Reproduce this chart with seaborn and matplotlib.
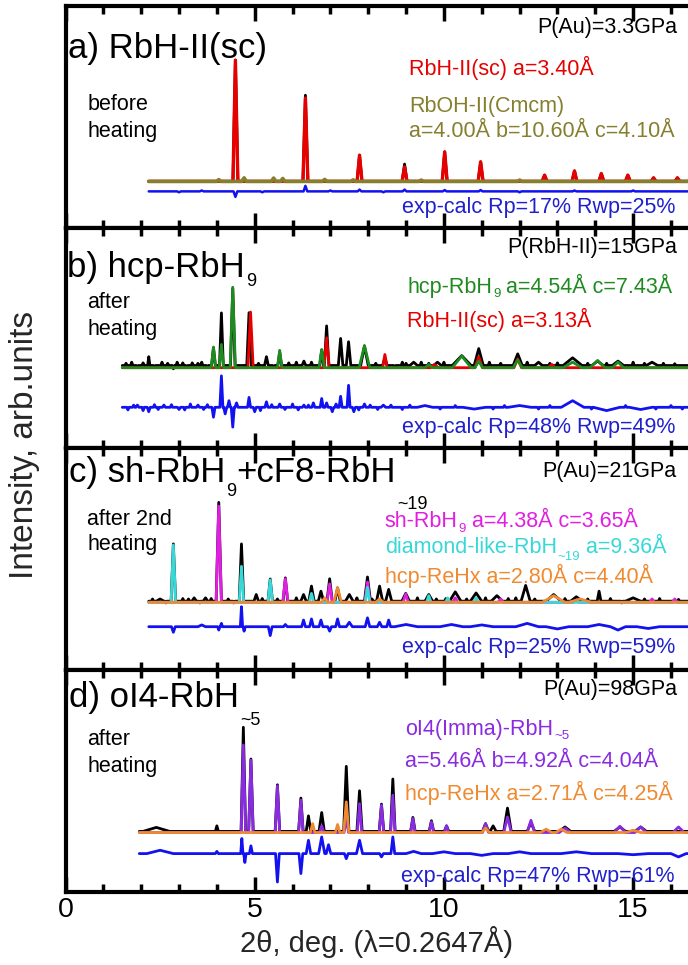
import numpy as np
import matplotlib.pyplot as plt
from matplotlib.ticker import MultipleLocator
import seaborn as sns

sns.set_style('ticks')
plt.rcParams['font.family'] = ['Liberation Sans', 'DejaVu Sans']

# ---------------- data (2theta in deg, intensity in arb. units above baseline) ----------------
# a) RbH-II(sc), before heating
a_span = (2.2, 16.5)
a_rbh_pos = [4.49, 6.34, 7.77, 8.96, 10.02, 10.97, 12.66, 13.45, 14.16, 14.86, 15.54, 16.17]
a_rbh_hgt = [54.6, 37.5, 11.8, 6.5, 13.3, 8.8, 2.8, 4.7, 3.5, 2.8, 1.6, 1.6]
a_obs_hgt = [54.6, 38.8, 11.8, 7.8, 13.3, 8.8, 2.8, 4.7, 3.5, 2.8, 1.6, 1.6]
a_rboh_pos = [4.05, 4.72, 5.50, 5.74, 6.85, 7.60, 9.40, 12.00]
a_rboh_hgt = [0.8, 1.6, 1.5, 1.3, 0.9, 0.7, 0.6, 0.6]
a_res_pos = [3.0, 3.6, 4.49, 5.2, 6.34, 7.0, 7.77, 8.4, 8.96, 10.02, 10.97, 12.0, 13.45, 15.0]
a_res_hgt = [-0.4, 0.4, -2.5, -0.4, 2.5, 0.4, 0.8, -0.4, 0.8, 0.6, 0.6, -0.4, 0.4, 0.4]

# b) hcp-RbH9, after heating
b_span = (1.5, 16.5)
b_hcp_pos = [3.91, 4.12, 4.42, 5.66, 6.77, 7.90, 9.60, 10.47, 10.92, 11.95, 13.40, 14.06, 14.60]
b_hcp_hgt = [9.4, 10.6, 36.6, 7.9, 8.3, 10.1, 1.5, 5.3, 3.0, 3.5, 2.5, 3.3, 2.6]
b_hcp_wid = [0.06, 0.06, 0.07, 0.06, 0.07, 0.14, 0.1, 0.25, 0.1, 0.12, 0.25, 0.2, 0.15]
b_rbh_pos = [4.89, 6.90, 8.44, 9.75, 10.92, 11.95, 12.85]
b_rbh_hgt = [25.3, 13.6, 6.0, 1.5, 5.0, 4.0, 1.5]
b_rbh_wid = [0.07, 0.07, 0.06, 0.1, 0.1, 0.1, 0.1]
b_obs_pos = [2.20, 3.91, 4.12, 4.42, 4.85, 5.31, 5.66, 6.30,
             6.77, 6.90, 7.27, 7.48, 7.90, 8.44, 9.20, 9.83, 10.47, 10.92, 11.95, 12.50,
             13.40, 14.06, 14.60, 15.50]
b_obs_hgt = [4.0, 8.0, 23.9, 35.0, 24.0, 4.0, 6.0, 2.0,
             7.0, 18.0, 12.3, 10.8, 8.8, 3.5, 1.5, 1.5, 4.5, 7.7, 5.3, 1.5,
             3.5, 2.0, 2.0, 1.5]
b_obs_wid = [0.03, 0.05, 0.05, 0.06, 0.06, 0.05, 0.05, 0.05,
             0.05, 0.06, 0.06, 0.06, 0.1, 0.06, 0.1, 0.1, 0.25, 0.12, 0.12, 0.1,
             0.25, 0.15, 0.15, 0.15]
b_obs_fine_pos = [1.6, 1.75, 1.9, 2.05, 2.35, 2.55, 2.7, 2.85, 2.95, 3.1, 3.2, 3.35, 3.5,
                  3.6, 3.75, 5.1, 5.5, 5.9, 6.1, 6.5, 8.2, 8.7, 8.9, 9.0, 9.4, 9.6, 10.0,
                  11.2, 11.5, 12.2, 12.8, 13.0, 13.8, 14.3, 15.0, 15.3, 15.8, 16.1]
b_obs_fine_hgt = [1.0, 1.5, -0.8, 1.2, -1.0, 1.5, 1.0, -1.5, 1.5, 1.2, -0.8, 1.2, 1.0,
                  1.5, -0.8, 1.0, -1.0, 1.2, 1.5, 1.5, 1.0, -1.0, 1.5, 1.0, 1.5, 1.0, 1.5,
                  1.5, 1.0, 1.5, 1.0, 1.2, 1.0, 1.0, 1.5, 1.0, 1.0, 0.8]
b_res_pos = [1.9, 2.2, 2.6, 3.0, 3.5, 3.91, 4.12, 4.22, 4.32, 4.42, 4.52, 4.85, 5.0, 5.31,
             5.66, 6.30, 6.55, 6.77, 6.90, 7.05, 7.27, 7.48, 7.62, 7.90, 8.4, 9.5, 10.8,
             12.0, 13.4, 14.3, 15.2]
b_res_hgt = [1, -2, 1, -1, 1, -4.5, 14.3, -3, 3, -9, 2, 4.5, -2, 2.5,
             1.5, 1, 2, 4, 2, -2, 5, 10, -2, 1.5, 1, 0.8, -0.8,
             0.8, 3, -1.5, -1]
b_res_wid = [0.04] * 24 + [0.06, 0.2, 0.3, 0.3, 0.3, 0.35, 0.3]
b_res_fine_pos = [1.65, 1.8, 2.05, 2.35, 2.45, 2.8, 3.15, 3.3, 3.65, 3.75, 5.15, 5.45,
                  5.8, 6.0, 6.15, 6.42, 7.15, 7.75, 8.05, 8.25, 8.6, 8.9, 9.1, 9.9,
                  10.3, 11.3, 11.6, 12.5, 12.8, 13.9, 14.8, 15.6, 16.0, 16.3]
b_res_fine_hgt = [-1.2, 1.0, -1.5, 1.2, -1.0, 1.2, -1.2, 1.5, -1.0, 1.2, -1.5, 1.2,
                  -1.0, 1.5, -1.2, 1.0, 1.5, -1.2, 1.0, -1.0, 1.0, -1.0, 1.0, -0.8,
                  0.8, -0.8, 0.8, -0.8, 0.8, -0.8, 0.8, -0.8, 0.8, -0.8]

# c) sh-RbH9 + cF8-RbH~19, after 2nd heating
c_span = (2.2, 16.5)
c_sh_pos = [4.05, 5.81, 6.98, 7.98, 8.99, 10.30, 11.50, 13.50, 15.50, 16.10]
c_sh_hgt = [43.3, 10.6, 8.3, 9.1, 3.7, 2.0, 1.5, 1.0, 1.5, 1.5]
c_dia_pos = [2.85, 4.65, 5.41, 6.50, 7.98, 9.60, 10.10, 10.85]
c_dia_hgt = [25.8, 16.2, 10.1, 4.0, 6.8, 3.0, 2.0, 2.0]
c_re_pos = [6.85, 7.19, 8.30, 12.90, 13.60]
c_re_hgt = [2.0, 6.5, 1.5, 3.0, 1.5]
c_re_wid = [0.08, 0.1, 0.1, 0.3, 0.3]
c_obs_pos = [2.50, 2.85, 3.40, 3.70, 4.05, 4.65, 5.04, 5.41, 5.81, 6.29, 6.50, 6.75, 6.98,
             7.19, 7.50, 7.98, 8.30, 8.54, 8.99, 9.60, 10.30, 10.85, 11.40, 12.16, 12.90,
             13.50, 14.10, 15.00]
c_obs_hgt = [1.0, 25.8, 1.5, 1.5, 44.5, 25.8, 3.0, 10.0, 10.5, 3.0, 6.8, 4.5, 10.1,
             6.0, 3.0, 10.9, 6.8, 5.3, 3.5, 3.0, 4.2, 3.7, 2.5, 7.1, 3.0,
             2.0, 4.5, 1.5]
c_obs_wid = [0.1, 0.06, 0.06, 0.06, 0.07, 0.06, 0.06, 0.06, 0.06, 0.07, 0.07, 0.07, 0.07,
             0.07, 0.1, 0.08, 0.08, 0.08, 0.1, 0.1, 0.15, 0.15, 0.15, 0.12, 0.2,
             0.15, 0.05, 0.2]
c_obs_fine_pos = [2.3, 2.65, 3.1, 3.25, 3.55, 3.85, 4.3, 4.45, 5.2, 5.6, 6.1, 7.7, 8.1,
                  9.3, 9.8, 10.05, 10.6, 11.1, 11.7, 11.9, 12.4, 13.2, 13.8, 14.4, 14.7,
                  15.3, 15.7, 16.2]
c_obs_fine_hgt = [1.0, -0.8, 1.2, 1.0, -0.8, 1.2, 1.0, -0.8, 1.2, 1.0, 1.5, 1.5, 1.0,
                  1.5, 1.0, 1.2, 1.0, 1.5, 1.2, 1.5, 1.0, 1.2, 1.0, 1.2, -0.8,
                  1.0, 1.2, 0.8]
c_res_pos = [2.85, 3.6, 4.05, 4.12, 4.65, 4.72, 5.41, 5.81, 6.29, 6.50, 6.75, 6.98, 7.19,
             7.5, 7.98, 8.3, 8.54, 9.0, 10.2, 11.0, 12.2, 13.0, 14.1, 14.6, 15.4]
c_res_hgt = [-2.5, 0.8, -1.5, 1.5, 9, -2, -4, 1, 3, 3.5, 3, -2, 3.5,
             2, 4, 2, 3, 1, 1, 0.8, 1.5, -1, 1, -1.5, -0.8]
c_res_wid = [0.05, 0.1, 0.03, 0.03, 0.03, 0.03, 0.05, 0.05, 0.05, 0.05, 0.05, 0.05, 0.05,
             0.08, 0.06, 0.06, 0.05, 0.3, 0.3, 0.3, 0.3, 0.3, 0.3, 0.2, 0.3]

# d) oI4-RbH~5, after heating
d_span = (1.95, 16.5)
d_oi4_pos = [4.70, 4.90, 5.60, 6.22, 6.77, 7.42, 7.77, 8.35, 8.65, 9.18, 9.67, 10.07,
             11.10, 11.68, 12.30, 13.20, 14.65, 15.20, 16.20]
d_oi4_hgt = [39.4, 32.6, 21.0, 14.6, 3.0, 6.0, 13.0, 12.3, 16.8, 6.3, 4.8, 3.0,
             4.0, 7.0, 5.5, 2.0, 2.8, 2.5, 2.5]
d_oi4_wid = [0.06] * 12 + [0.08, 0.1, 0.1, 0.15, 0.15, 0.15, 0.15]
d_re_pos = [6.53, 7.19, 7.42, 11.10, 12.70, 13.10, 15.00]
d_re_hgt = [4.0, 3.6, 13.8, 2.0, 1.5, 1.5, 1.0]
d_re_wid = [0.06, 0.06, 0.07, 0.1, 0.15, 0.15, 0.2]
d_obs_pos = [2.40, 4.00, 4.70, 4.90, 5.60, 6.22, 6.42, 6.77, 7.42, 7.77, 8.35, 8.65, 9.18,
             9.67, 10.07, 11.10, 11.30, 11.68, 12.30, 13.20, 14.65, 15.20]
d_obs_hgt = [1.8, 2.5, 46.9, 32.6, 21.0, 15.0, 7.0, 8.5, 29.3, 18.3, 12.3, 23.6, 6.3,
             4.8, 2.5, 3.5, 2.5, 10.5, 4.0, 2.0, 2.0, 2.0]
d_obs_wid = [0.35, 0.04, 0.06, 0.06, 0.06, 0.06, 0.06, 0.07, 0.07, 0.07, 0.06, 0.06, 0.06,
             0.06, 0.06, 0.08, 0.08, 0.1, 0.1, 0.15, 0.15, 0.15]
d_res_pos = [2.5, 4.0, 4.66, 4.74, 4.90, 5.60, 6.22, 6.42, 6.77, 6.95, 7.42, 7.77, 8.35,
             8.65, 9.2, 10.0, 11.0, 12.0, 13.5, 15.0, 16.2]
d_res_hgt = [1.5, 1, 6.8, -4, 3.5, -12.8, -9, 6, 7.5, 4, -2.3, 6, -1.5,
             7.5, 1, 0.8, -0.8, 0.8, 0.8, -0.5, -1.5]
d_res_wid = [0.35, 0.04, 0.03, 0.03, 0.04, 0.05, 0.05, 0.06, 0.08, 0.06, 0.05, 0.08, 0.05,
             0.05, 0.2, 0.3, 0.3, 0.3, 0.4, 0.4, 0.2]

# colours
RED, OLIVE, GREEN = '#e60000', '#857f2e', '#1f8a1f'
MAG, CYAN, ORANGE, PURPLE = '#e01fe0', '#38d8d8', '#f08a30', '#8a2be2'
BLUE, TBLUE = '#1212f0', '#2020cc'


def peak_line(span, pos, hgt, wid, shift=0.0):
    # baseline -> peak -> baseline for every reflection
    if np.isscalar(wid):
        wid = [wid] * len(pos)
    xs, ys = [span[0]], [shift]
    for p, h, w in sorted(zip(pos, hgt, wid)):
        start = max(p - w, xs[-1])
        if start < p:
            xs.append(start)
            ys.append(shift)
        xs += [p, p + w]
        ys += [shift + h, shift]
    xs.append(span[1])
    ys.append(shift)
    return xs, ys


def draw(ax, span, pos, hgt, wid, color, lw=2.2, shift=0.0):
    xs, ys = peak_line(span, pos, hgt, wid, shift)
    sns.lineplot(x=xs, y=ys, ax=ax, color=color, lw=lw, sort=False,
                 estimator=None, solid_joinstyle='round')


fig = plt.figure(figsize=(6.88, 9.65), dpi=100)
edges = [6, 228, 448, 670, 892]
bases = [21, 36.5, 30.5, 26.8]
axes = []
for i in range(4):
    top, bot = edges[i], edges[i + 1]
    ax = fig.add_axes([65.5 / 688, 1 - bot / 965, 1 - 65.5 / 688, (bot - top) / 965])
    ax.set_xlim(0, 16.45)
    ax.set_ylim(-bases[i], 100 - bases[i])
    ax.set_yticks([])
    ax.set_xticks([0, 5, 10, 15])
    ax.xaxis.set_minor_locator(MultipleLocator(1))
    ax.tick_params(axis='x', which='both', direction='in', top=True, bottom=True,
                   width=2.5, colors='black', labelsize=20.5, labelbottom=(i == 3))
    ax.tick_params(axis='x', which='major', length=11)
    ax.tick_params(axis='x', which='minor', length=6)
    for s in ['left', 'top', 'bottom']:
        ax.spines[s].set_linewidth(3)
        ax.spines[s].set_color('black')
    ax.spines['right'].set_visible(False)
    ax.set_facecolor('white')
    axes.append(ax)


def label(ax, x, y, parts, color='black', size=15.5, sub=9.5, ha='left'):
    # parts: plain string, or list of (text, subscript offset in pt or None)
    if isinstance(parts, str):
        parts = [(parts, None)]
    first = ax.text(x, y, parts[0][0], color=color, fontsize=size, ha=ha,
                    va='baseline', transform=ax.transAxes)
    prev = first
    for txt, dy in parts[1:]:
        if dy is not None:
            prev = ax.annotate(txt, xy=(1, 0), xycoords=prev, xytext=(0.6, dy),
                               textcoords='offset points', color=color, fontsize=sub,
                               va='center', ha='left')
        else:
            prev = ax.annotate(txt, xy=(1, 0), xycoords=(prev, first), color=color,
                               fontsize=size, va='bottom', ha='left')


# ---- panel a ----
ax = axes[0]
draw(ax, a_span, a_rbh_pos, a_obs_hgt, 0.065, 'black', lw=2.0)
draw(ax, a_span, a_rbh_pos, a_rbh_hgt, 0.065, RED, lw=2.4)
draw(ax, a_span, a_rboh_pos, a_rboh_hgt, 0.06, OLIVE, lw=2.6)
draw(ax, a_span, a_res_pos, a_res_hgt, 0.05, BLUE, lw=1.8, shift=-4.5)
label(ax, 0.004, 0.766, 'a) RbH-II(sc)', size=25)
label(ax, 0.982, 0.878, 'P(Au)=3.3GPa', ha='right')
label(ax, 0.552, 0.689, 'RbH-II(sc) a=3.40Å', RED)
label(ax, 0.552, 0.523, 'RbOH-II(Cmcm)', OLIVE)
label(ax, 0.552, 0.41, 'a=4.00Å b=10.60Å c=4.10Å', OLIVE)
label(ax, 0.035, 0.53, 'before')
label(ax, 0.035, 0.41, 'heating')
label(ax, 0.979, 0.068, 'exp-calc Rp=17% Rwp=25%', TBLUE, ha='right')

# ---- panel b ----
ax = axes[1]
draw(ax, b_span, b_obs_pos + b_obs_fine_pos, b_obs_hgt + b_obs_fine_hgt,
     b_obs_wid + [0.03] * len(b_obs_fine_pos), 'black', lw=2.0, shift=1.0)
draw(ax, b_span, b_rbh_pos, b_rbh_hgt, b_rbh_wid, RED, lw=2.0)
draw(ax, b_span, b_hcp_pos, b_hcp_hgt, b_hcp_wid, GREEN, lw=2.0)
draw(ax, b_span, b_res_pos + b_res_fine_pos, b_res_hgt + b_res_fine_hgt,
     b_res_wid + [0.03] * len(b_res_fine_pos), BLUE, lw=2.0, shift=-18)
label(ax, 0.003, 0.777, [('b) hcp-RbH', None), ('9', 1.5)], size=25, sub=13)
label(ax, 0.982, 0.886, 'P(RbH-II)=15GPa', ha='right')
label(ax, 0.549, 0.705, [('hcp-RbH', None), ('9', 2.5), (' a=4.54Å c=7.43Å', None)], GREEN)
label(ax, 0.549, 0.55, 'RbH-II(sc) a=3.13Å', RED)
label(ax, 0.035, 0.636, 'after')
label(ax, 0.035, 0.514, 'heating')
label(ax, 0.979, 0.068, 'exp-calc Rp=48% Rwp=49%', TBLUE, ha='right')

# ---- panel c ----
ax = axes[2]
draw(ax, c_span, c_obs_pos + c_obs_fine_pos, c_obs_hgt + c_obs_fine_hgt,
     c_obs_wid + [0.03] * len(c_obs_fine_pos), 'black', lw=2.0, shift=0.5)
draw(ax, c_span, c_sh_pos, c_sh_hgt, 0.07, MAG, lw=2.0)
draw(ax, c_span, c_dia_pos, c_dia_hgt, 0.06, CYAN, lw=2.0)
draw(ax, c_span, c_re_pos, c_re_hgt, c_re_wid, ORANGE, lw=2.0)
draw(ax, c_span, c_res_pos, c_res_hgt, c_res_wid, BLUE, lw=2.0, shift=-11)
label(ax, 0.006, 0.847, [('c) sh-RbH', None), ('9', -1.5), ('+cF8-RbH', None), ('~19', -11)],
      size=25, sub=13)
label(ax, 0.982, 0.869, 'P(Au)=21GPa', ha='right')
label(ax, 0.513, 0.644, [('sh-RbH', None), ('9', 2.5), (' a=4.38Å c=3.65Å', None)], MAG)
label(ax, 0.513, 0.527, [('diamond-like-RbH', None), ('~19', 0.5), (' a=9.36Å', None)], CYAN)
label(ax, 0.513, 0.392, 'hcp-ReHx a=2.80Å c=4.40Å', ORANGE)
label(ax, 0.035, 0.653, 'after 2nd')
label(ax, 0.035, 0.54, 'heating')
label(ax, 0.979, 0.077, 'exp-calc Rp=25% Rwp=59%', TBLUE, ha='right')

# ---- panel d ----
ax = axes[3]
draw(ax, d_span, d_obs_pos, d_obs_hgt, d_obs_wid, 'black', lw=2.0, shift=0.5)
draw(ax, d_span, d_oi4_pos, d_oi4_hgt, d_oi4_wid, PURPLE, lw=2.0)
draw(ax, d_span, d_re_pos, d_re_hgt, d_re_wid, ORANGE, lw=2.0)
draw(ax, d_span, d_res_pos, d_res_hgt, d_res_wid, BLUE, lw=2.0, shift=-9.5)
label(ax, 0.006, 0.833, [('d) oI4-RbH', None), ('~5', -4.5)], size=25, sub=13)
label(ax, 0.982, 0.887, 'P(Au)=98GPa', ha='right')
label(ax, 0.546, 0.707, [('oI4(Imma)-RbH', None), ('~5', 3)], PURPLE)
label(ax, 0.546, 0.563, 'a=5.46Å b=4.92Å c=4.04Å', PURPLE)
label(ax, 0.546, 0.414, 'hcp-ReHx a=2.71Å c=4.25Å', ORANGE)
label(ax, 0.035, 0.662, 'after')
label(ax, 0.035, 0.54, 'heating')
label(ax, 0.979, 0.045, 'exp-calc Rp=47% Rwp=61%', TBLUE, ha='right')
ax.set_xlabel('2θ, deg. (λ=0.2647Å)', fontsize=21, labelpad=2)

fig.text(0.036, 0.539, 'Intensity, arb.units', rotation=90, fontsize=24,
         ha='center', va='center')

fig.savefig('out.png', dpi=100, facecolor='white')
